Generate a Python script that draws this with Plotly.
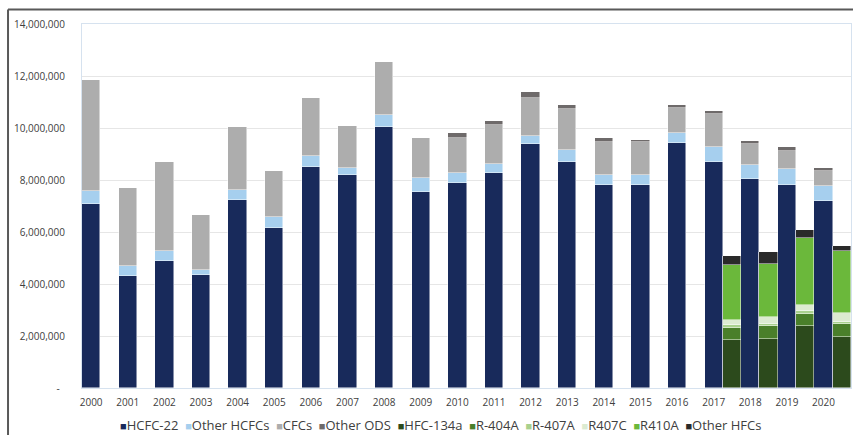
import plotly.graph_objects as go

years = list(range(2000, 2021))
hfc_years = [2017, 2018, 2019, 2020]

# ODS consumption by year
hcfc22 = [7090000, 4310000, 4900000, 4350000, 7230000, 6150000, 8510000, 8180000, 10040000, 7530000,
          7900000, 8280000, 9400000, 8710000, 7820000, 7790000, 9410000, 8690000, 8040000, 7810000, 7190000]
other_hcfcs = [490000, 390000, 380000, 200000, 370000, 410000, 430000, 270000, 460000, 550000,
               380000, 340000, 310000, 430000, 370000, 420000, 400000, 580000, 540000, 600000, 580000]
cfcs = [4270000, 3010000, 3400000, 2100000, 2430000, 1800000, 2230000, 1610000, 2040000, 1540000,
        1320000, 1500000, 1460000, 1580000, 1280000, 1240000, 970000, 1260000, 790000, 720000, 580000]
other_ods = [0, 0, 0, 0, 0, 0, 0, 0, 0, 0,
             200000, 140000, 230000, 150000, 130000, 100000, 90000, 110000, 120000, 140000, 110000]

# HFC consumption 2017-2020
hfc134a = [1830000, 1900000, 2370000, 1970000]
r404a = [490000, 480000, 490000, 480000]
r407a = [100000, 100000, 100000, 100000]
r407c = [180000, 240000, 230000, 320000]
r410a = [2120000, 2040000, 2590000, 2400000]
other_hfcs = [340000, 470000, 280000, 200000]

ods_series = [
    ("HCFC-22", hcfc22, "#182a5b"),
    ("Other HCFCs", other_hcfcs, "#a6cfee"),
    ("CFCs", cfcs, "#adadad"),
    ("Other ODS", other_ods, "#6e6a6a"),
]
hfc_series = [
    ("HFC-134a", hfc134a, "#2c4a1c"),
    ("R-404A", r404a, "#4a7f2a"),
    ("R-407A", r407a, "#a9d18e"),
    ("R407C", r407c, "#dcebd1"),
    ("R410A", r410a, "#6bb83b"),
    ("Other HFCs", other_hfcs, "#2a2a2a"),
]

y_ticks = [0, 2000000, 4000000, 6000000, 8000000, 10000000, 12000000, 14000000]
y_ticktext = ["-\u00a0\u00a0"] + [f"{v:,}" for v in y_ticks[1:]]

FONT = "Open Sans"

fig = go.Figure()
for name, vals, color in ods_series:
    fig.add_trace(go.Bar(
        x=years, y=vals, name=name, width=0.5,
        marker=dict(color=color, line=dict(color="rgba(255,255,255,0.8)", width=0.6)),
        showlegend=False,
    ))
for name, vals, color in hfc_series:
    fig.add_trace(go.Bar(
        x=[y + 0.5 for y in hfc_years], y=vals, name=name, width=0.5,
        marker=dict(color=color, line=dict(color="rgba(255,255,255,0.8)", width=0.6)),
        showlegend=False,
    ))

# legend built as text from the series names/colours
parts = []
for name, _, color in ods_series + hfc_series:
    parts.append(f'<span style="color:{color};font-size:11px">■</span>{name}')
legend_text = "\u00a0\u00a0".join(parts)

border = dict(color="#595959", width=2)

fig.update_layout(
    width=853, height=435,
    margin=dict(l=82, r=2, t=24, b=47),
    barmode="stack",
    bargap=0,
    plot_bgcolor="white",
    paper_bgcolor="white",
    font=dict(family=FONT, color="#404040", size=10),
    xaxis=dict(
        range=[1999.75, 2020.75],
        tickvals=years,
        ticktext=[str(y) for y in years],
        tickfont=dict(size=10, color="#404040", family=FONT),
        showgrid=False, zeroline=False,
        showline=True, linecolor="#d6e2ef", linewidth=1, mirror=True,
        ticks="", ticklabelstandoff=5,
    ),
    yaxis=dict(
        range=[0, 14000000],
        tickvals=y_ticks,
        ticktext=y_ticktext,
        tickfont=dict(size=10, color="#404040", family=FONT),
        showgrid=True, gridcolor="#e6e6e6", gridwidth=1,
        zeroline=False,
        showline=True, linecolor="#d6e2ef", linewidth=1, mirror=True,
        ticks="", ticklabelstandoff=14,
    ),
    annotations=[dict(
        xref="paper", yref="paper", x=0.466, y=-0.101,
        xanchor="center", yanchor="middle", showarrow=False,
        text=legend_text,
        font=dict(size=13, color="#404040", family=FONT),
    )],
    shapes=[
        dict(type="line", xref="paper", yref="paper",
             x0=-0.0962, x1=1.01, y0=1.0398, y1=1.0398, line=border, layer="above"),
        dict(type="line", xref="paper", yref="paper",
             x0=-0.0962, x1=-0.0962, y0=-0.2, y1=1.0398, line=border, layer="above"),
    ],
)

fig.write_html(
    "out.html",
    config={"displayModeBar": False},
    post_script="document.body.style.margin='0';document.body.style.padding='0';",
)
